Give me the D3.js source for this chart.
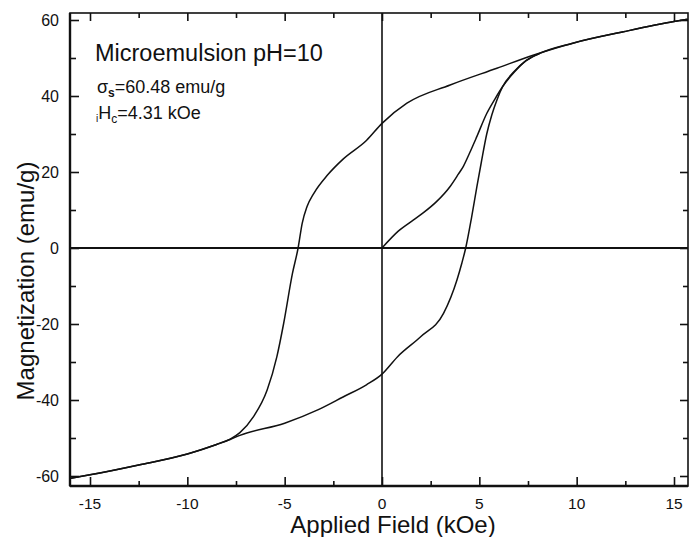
<!DOCTYPE html>
<html>
<head>
<meta charset="utf-8">
<script src="https://cdn.jsdelivr.net/npm/d3@7"></script>
<style>
  body { margin: 0; background: #fff; }
  text { font-family: "Liberation Sans", Arial, sans-serif; fill: #111; }
</style>
</head>
<body>
<div id="container"></div>
<script>

// upper branch (field coming down from +15 kOe), listed by increasing field
let upperField = [-16, -15, -12.5, -10, -8.5, -7.8, -7.3, -6.6, -5.9, -5.4, -5.05, -4.6, -4.31, -4.1, -3.85, -3.5, -2.8, -2, -0.8, 0, 1.28, 3.5, 5.9, 7.8, 9.8, 12.4, 15, 15.7];
let upperMag   = [-60.6, -59.7, -57.1, -54.2, -51.7, -50.3, -48.6, -44.4, -37.4, -28.6, -19.8, -6.7, 0, 6.5, 10.9, 14.4, 19.2, 23.4, 28.3, 32.8, 38.1, 42.9, 47.3, 50.8, 53.9, 56.9, 59.6, 60.2];

// lower branch (field going up from -15 kOe)
let lowerField = [-16, -15, -12.5, -10, -8.5, -7.8, -7.3, -5, -3.3, -2, -0.8, 0, 0.8, 2, 3.16, 3.85, 4.1, 4.3, 4.6, 4.87, 5.1, 5.38, 5.64, 5.9, 6.2, 6.8, 7.4, 8.1, 9.8, 12.4, 15, 15.7];
let lowerMag   = [-60.6, -59.7, -57.1, -54.2, -51.7, -50.4, -49.3, -46.1, -42.6, -39.2, -36, -33.2, -28.6, -23.3, -17.2, -8.4, -4, 0, 8, 16, 22.5, 30, 35, 38.9, 42.5, 46.5, 49.3, 51.2, 53.9, 56.9, 59.6, 60.2];

// initial magnetization curve from the origin
let virginField = [0, 0.85, 1.62, 2.13, 2.8, 3.5, 3.93, 4.18, 4.5, 4.87, 5.38, 5.8, 6.2, 6.8, 7.4, 8.1];
let virginMag   = [0, 4.5, 7.4, 9.3, 12.2, 16.2, 19.5, 21.5, 25, 29.3, 35.4, 39.2, 42.5, 46.3, 49.3, 51.2];

let xTicks = [-15, -10, -5, 0, 5, 10, 15];
let xMinorTicks = [-12.5, -7.5, -2.5, 2.5, 7.5, 12.5];
let yTicks = [-60, -40, -20, 0, 20, 40, 60];
let yMinorTicks = [-50, -30, -10, 10, 30, 50];

let w = 689;
let h = 537;
let pLeft = 70, pRight = 688, pTop = 13, pBottom = 486;

let viz = d3.select("#container")
  .append("svg")
    .attr("width", w)
    .attr("height", h)
;

let xScale = d3.scaleLinear().domain([-15, 15]).range([90, 674]);
let yScale = d3.scaleLinear().domain([-60, 60]).range([476, 20]);

// axes: ticks drawn inward on all four sides
function addAxis(axisFn, scale, tickVals, size, transform){
  let ax = axisFn(scale).tickValues(tickVals).tickSizeInner(size).tickSizeOuter(0).tickFormat("");
  let g = viz.append("g").attr("transform", transform).call(ax);
  g.select(".domain").remove();
  g.selectAll("line").attr("stroke", "#111").attr("stroke-width", 1.6);
  return g;
}

addAxis(d3.axisTop, xScale, xTicks, 9, "translate(0," + pBottom + ")");
addAxis(d3.axisTop, xScale, xMinorTicks, 5, "translate(0," + pBottom + ")");
addAxis(d3.axisBottom, xScale, xTicks, 8, "translate(0," + pTop + ")");
addAxis(d3.axisBottom, xScale, xMinorTicks, 5, "translate(0," + pTop + ")");
addAxis(d3.axisRight, yScale, yTicks, 9, "translate(" + pLeft + ",0)");
addAxis(d3.axisRight, yScale, yMinorTicks, 6, "translate(" + pLeft + ",0)");
addAxis(d3.axisLeft, yScale, yTicks, 8, "translate(" + pRight + ",0)");
addAxis(d3.axisLeft, yScale, yMinorTicks, 5, "translate(" + pRight + ",0)");

// tick labels
viz.selectAll(".xlab").data(xTicks).enter()
  .append("text")
    .attr("class", "xlab")
    .attr("x", function(d){ return xScale(d); })
    .attr("y", 509)
    .attr("text-anchor", "middle")
    .attr("font-size", "15.5px")
    .text(function(d){ return d; })
;
viz.selectAll(".ylab").data(yTicks).enter()
  .append("text")
    .attr("class", "ylab")
    .attr("x", 59)
    .attr("y", function(d){ return yScale(d) + 6; })
    .attr("text-anchor", "end")
    .attr("font-size", "16px")
    .text(function(d){ return d; })
;

// frame
viz.append("rect")
  .attr("x", pLeft).attr("y", pTop)
  .attr("width", pRight - pLeft).attr("height", pBottom - pTop)
  .attr("fill", "none").attr("stroke", "#111").attr("stroke-width", 1.6)
;
viz.append("line")
  .attr("x1", pLeft).attr("x2", pRight).attr("y1", pBottom).attr("y2", pBottom)
  .attr("stroke", "#111").attr("stroke-width", 2.4)
;
viz.append("line")
  .attr("x1", pLeft).attr("x2", pLeft).attr("y1", pTop).attr("y2", pBottom)
  .attr("stroke", "#111").attr("stroke-width", 2.4)
;

// zero lines
viz.append("line")
  .attr("x1", pLeft).attr("x2", pRight)
  .attr("y1", yScale(0)).attr("y2", yScale(0))
  .attr("stroke", "#111").attr("stroke-width", 2)
;
viz.append("line")
  .attr("x1", xScale(0)).attr("x2", xScale(0))
  .attr("y1", pTop).attr("y2", pBottom)
  .attr("stroke", "#111").attr("stroke-width", 1.6)
;

// curves
let line = d3.line()
  .x(function(d){ return xScale(d[0]); })
  .y(function(d){ return yScale(d[1]); })
  .curve(d3.curveMonotoneX)
;
let curves = [
  d3.zip(upperField, upperMag),
  d3.zip(lowerField, lowerMag),
  d3.zip(virginField, virginMag)
];
viz.selectAll(".loop").data(curves).enter()
  .append("path")
    .attr("class", "loop")
    .attr("d", line)
    .attr("fill", "none")
    .attr("stroke", "#111")
    .attr("stroke-width", 1.5)
;

// annotation
viz.append("text")
  .attr("x", 95).attr("y", 61)
  .attr("font-size", "23.5px")
  .text("Microemulsion pH=10")
;
let s1 = viz.append("text").attr("x", 97).attr("y", 93).attr("font-size", "18px");
s1.append("tspan").text("σ");
s1.append("tspan").attr("dy", 4).attr("font-size", "12px").attr("font-weight", "bold").text("s");
s1.append("tspan").attr("dy", -4).text("=60.48 emu/g");

let s2 = viz.append("text").attr("x", 96).attr("y", 119).attr("font-size", "18px");
s2.append("tspan").attr("dy", 3).attr("font-size", "10px").text("i");
s2.append("tspan").attr("dy", -3).text("H");
s2.append("tspan").attr("dy", 4).attr("font-size", "12px").text("c");
s2.append("tspan").attr("dy", -4).text("=4.31 kOe");

// axis titles
viz.append("text")
  .attr("x", 393).attr("y", 533)
  .attr("text-anchor", "middle")
  .attr("font-size", "24px")
  .text("Applied Field (kOe)")
;
viz.append("text")
  .attr("transform", "translate(34,281) rotate(-90)")
  .attr("text-anchor", "middle")
  .attr("font-size", "24px")
  .text("Magnetization (emu/g)")
;

</script>
</body>
</html>
